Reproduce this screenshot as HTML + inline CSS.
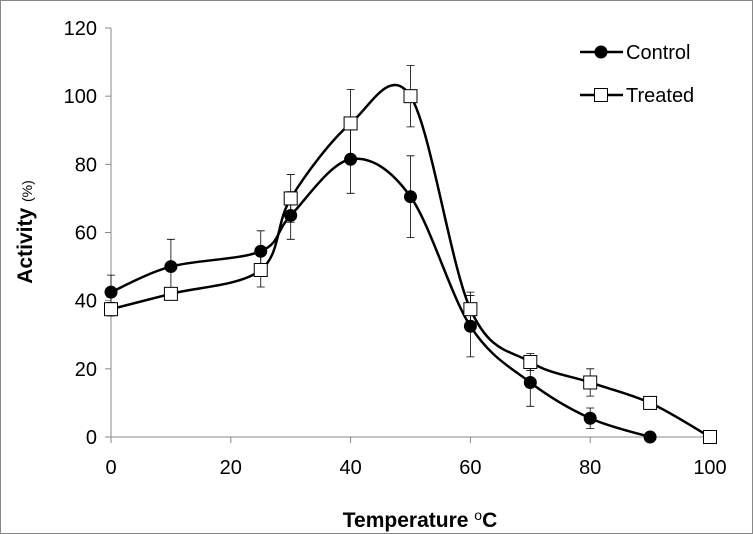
<!DOCTYPE html>
<html><head><meta charset="utf-8"><style>
body{margin:0;background:#fff;}
svg{display:block;font-family:"Liberation Sans",Arial,sans-serif;}
</style></head><body>
<svg id="chart" width="753" height="534" viewBox="0 0 753 534">
<rect x="0.5" y="0.5" width="752" height="533" fill="#fff" stroke="#888"/>
<g id="axes"></g>
<g id="series"></g>
<text x="32" y="232" transform="rotate(-90 32 232)" text-anchor="middle" font-size="21" font-weight="bold">Activity <tspan font-size="14" font-weight="normal">(%)</tspan></text>
<text x="420" y="527" text-anchor="middle" font-size="21" font-weight="bold">Temperature <tspan font-weight="normal" font-size="14" dy="-7">o</tspan><tspan dy="7">C</tspan></text>
<g>
<g>
<line x1="580" y1="52" x2="623" y2="52" stroke="#000" stroke-width="2.5"/>
<circle cx="601" cy="52" r="6.5" fill="#000"/>
<text x="626" y="59" font-size="20">Control</text></g>
<g>
<line x1="580" y1="95" x2="623" y2="95" stroke="#000" stroke-width="2.5"/>
<rect x="594.5" y="88.5" width="13" height="13" fill="#fff" stroke="#000" stroke-width="1"/>
<text x="626" y="102" font-size="20">Treated</text></g>
</g>
</svg>
<script>
const xTicks=[0,20,40,60,80,100];
const yTicks=[0,20,40,60,80,100,120];
const controlX=[0,10,25,30,40,50,60,70,80,90];
const controlY=[42.5,50,54.5,65,81.5,70.5,32.5,16,5.5,0];
const controlErr=[5,8,6,7,10,12,9,7,3,0];
const treatedX=[0,10,25,30,40,50,60,70,80,90,100];
const treatedY=[37.5,42,49,70,92,100,37.5,22,16,10,0];
const treatedErr=[2,1,5,7,10,9,5,2.5,4,1,0];

const NS="http://www.w3.org/2000/svg";
const X0=111,X1=710,Y0=437,Y1=28;
const sx=v=>X0+(v/100)*(X1-X0);
const sy=v=>Y0-(v/120)*(Y0-Y1);
function mk(tag,attrs,parent){const e=document.createElementNS(NS,tag);for(const k in attrs)e.setAttribute(k,attrs[k]);parent.appendChild(e);return e;}
const axes=document.getElementById('axes');
const ya=mk('line',{x1:X0,y1:Y1,x2:X0,y2:Y0,stroke:'#888','stroke-width':1},axes);


const xa=mk('line',{x1:X0-6,y1:Y0,x2:X1,y2:Y0,stroke:'#888','stroke-width':1},axes);


yTicks.forEach(v=>{
  mk('line',{x1:X0-6,y1:sy(v),x2:X0,y2:sy(v),stroke:'#888'},axes);
  const t=mk('text',{x:X0-14,y:sy(v)+7,'text-anchor':'end','font-size':20},axes);
  t.textContent=v;
  
  
});
xTicks.forEach(v=>{
  mk('line',{x1:sx(v),y1:Y0,x2:sx(v),y2:Y0+6,stroke:'#888'},axes);
  const t=mk('text',{x:sx(v),y:Y0+37,'text-anchor':'middle','font-size':20},axes);
  t.textContent=v;
  
  
});
function smooth(pts){
  let d=`M${pts[0][0]},${pts[0][1]}`;
  for(let i=0;i<pts.length-1;i++){
    const p0=pts[i-1]||pts[i],p1=pts[i],p2=pts[i+1],p3=pts[i+2]||p2;
    const c1=[p1[0]+(p2[0]-p0[0])/6,p1[1]+(p2[1]-p0[1])/6];
    const c2=[p2[0]-(p3[0]-p1[0])/6,p2[1]-(p3[1]-p1[1])/6];
    d+=` C${c1[0]},${c1[1]} ${c2[0]},${c2[1]} ${p2[0]},${p2[1]}`;
  }
  return d;
}
const series=document.getElementById('series');
function draw(xs,ys,errs,name,marker){
  const g=mk('g',{},series);
  
  
  xs.forEach((x,i)=>{
    if(errs[i]>0){
      const px=sx(x),a=sy(ys[i]+errs[i]),b=sy(ys[i]-errs[i]);
      const e=mk('path',{d:`M${px},${a}V${b}M${px-4},${a}H${px+4}M${px-4},${b}H${px+4}`,stroke:'#000','stroke-width':0.8,fill:'none'},g);
      
      
    }
  });
  const p=mk('path',{d:smooth(xs.map((x,i)=>[sx(x),sy(ys[i])])),fill:'none',stroke:'#000','stroke-width':2.5},g);
  
  
  xs.forEach((x,i)=>{
    let m;
    if(marker==='circle') m=mk('circle',{cx:sx(x),cy:sy(ys[i]),r:6.5,fill:'#000'},g);
    else m=mk('rect',{x:sx(x)-6.5,y:sy(ys[i])-6.5,width:13,height:13,fill:'#fff',stroke:'#000','stroke-width':1},g);
    
    
  });
}
draw(controlX,controlY,controlErr,'control','circle');
draw(treatedX,treatedY,treatedErr,'treated','square');
</script>
</body></html>
